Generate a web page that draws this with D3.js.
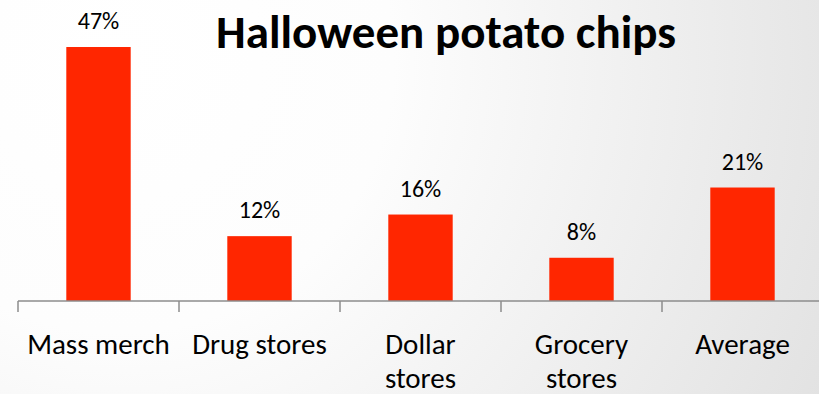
<!DOCTYPE html>
<html>
<head>
<meta charset="utf-8">
<script src="https://cdn.jsdelivr.net/npm/d3@7"></script>
<style>
  html, body { margin: 0; padding: 0; background: #fff; }
  svg { display: block; }
  text { font-family: Carlito, Calibri, Lato, "Open Sans", sans-serif; fill: #000; }
</style>
</head>
<body>
<svg id="chart" width="819" height="394"></svg>
<script>
// Share of Halloween potato chip sales by channel (%)
const categories = ["Mass merch", "Drug stores", "Dollar stores", "Grocery stores", "Average"];
const labelLines = [["Mass merch"], ["Drug stores"], ["Dollar", "stores"], ["Grocery", "stores"], ["Average"]];
const values = [47, 12, 16, 8, 21];
const title = "Halloween potato chips";

const W = 819, H = 394;
const svg = d3.select("#chart");

// soft grey background fading from white near the upper left
const defs = svg.append("defs");
const grad = defs.append("radialGradient")
  .attr("id", "bg").attr("gradientUnits", "userSpaceOnUse")
  .attr("cx", 120).attr("cy", 60).attr("r", 780);
grad.append("stop").attr("offset", "0%").attr("stop-color", "#ffffff");
grad.append("stop").attr("offset", "35%").attr("stop-color", "#fdfdfd");
grad.append("stop").attr("offset", "100%").attr("stop-color", "#e2e2e2");
svg.append("rect").attr("width", W).attr("height", H).attr("fill", "url(#bg)");

const x = d3.scaleBand().domain(categories).range([18, 823]).paddingInner(0.6).paddingOuter(0.3);
const y = d3.scaleLinear().domain([0, 50]).range([301, 30.8]);

// bars
svg.append("g").selectAll("rect").data(values).join("rect")
  .attr("x", (d, i) => x(categories[i]))
  .attr("y", d => y(d))
  .attr("width", x.bandwidth())
  .attr("height", d => y(0) - y(d))
  .attr("fill", "#ff2600");

// value labels
svg.append("g").selectAll("text").data(values).join("text")
  .attr("x", (d, i) => x(categories[i]) + x.bandwidth() / 2)
  .attr("y", d => y(d) - 18)
  .attr("text-anchor", "middle")
  .attr("font-size", 24)
  .text(d => d + "%");

// category axis with ticks between bands
const step = x.step();
const x0 = x.range()[0];
const axis = svg.append("g").attr("stroke", "#8c8c8c").attr("stroke-width", 1.5);
axis.append("line").attr("x1", x0).attr("x2", x.range()[1]).attr("y1", y(0)).attr("y2", y(0));
d3.range(categories.length + 1).forEach(i => {
  axis.append("line")
    .attr("x1", x0 + i * step).attr("x2", x0 + i * step)
    .attr("y1", y(0)).attr("y2", y(0) + 11);
});

// category labels, two lines where the name wraps
const lab = svg.append("g").selectAll("text").data(categories).join("text")
  .attr("x", d => x(d) + x.bandwidth() / 2)
  .attr("y", 354)
  .attr("text-anchor", "middle")
  .attr("font-size", 29);
lab.each(function(d, i) {
  const t = d3.select(this);
  labelLines[i].forEach((ln, k) => {
    t.append("tspan").attr("x", x(d) + x.bandwidth() / 2).attr("dy", k === 0 ? 0 : 34).text(ln);
  });
});

// title
svg.append("text")
  .attr("x", 446).attr("y", 48)
  .attr("text-anchor", "middle")
  .attr("font-size", 47)
  .attr("font-weight", "bold")
  .text(title);
</script>
</body>
</html>
